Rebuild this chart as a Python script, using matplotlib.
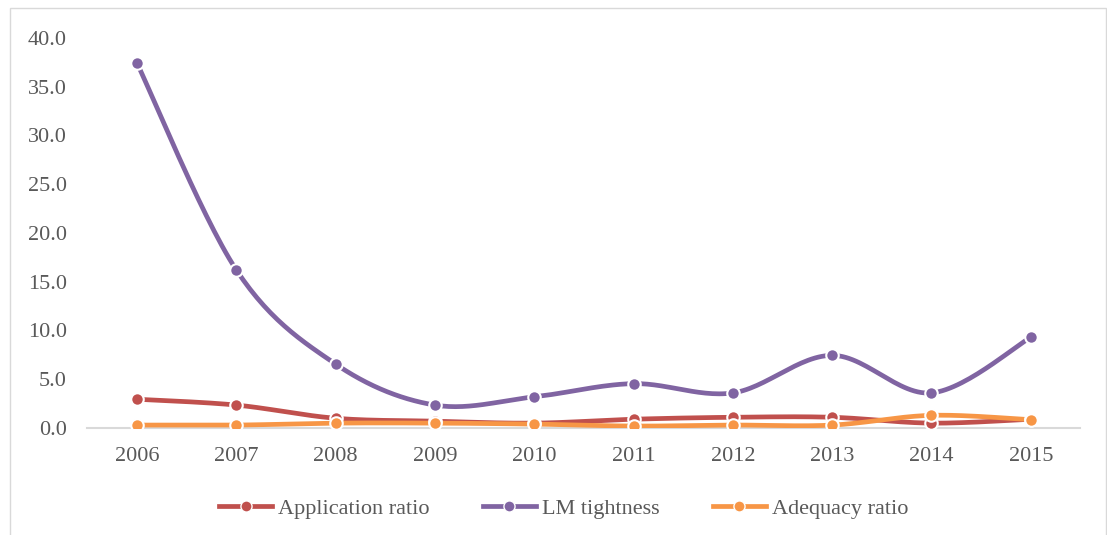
import numpy as np
import matplotlib
matplotlib.use('Agg')
import matplotlib.pyplot as plt
from matplotlib.lines import Line2D
from matplotlib.patches import Rectangle

years = ['2006', '2007', '2008', '2009', '2010', '2011', '2012', '2013', '2014', '2015']
application_ratio = [2.95, 2.35, 1.0, 0.7, 0.5, 0.9, 1.1, 1.1, 0.5, 0.9]
lm_tightness = [37.4, 16.2, 6.55, 2.35, 3.2, 4.55, 3.6, 7.45, 3.6, 9.3]
adequacy_ratio = [0.3, 0.3, 0.5, 0.5, 0.4, 0.2, 0.3, 0.3, 1.3, 0.85]

colors = {'Application ratio': '#C0504D',
          'LM tightness': '#8064A2',
          'Adequacy ratio': '#F79646'}
text_col = '#595959'


def smooth(x, y, n=30):
    # Excel-style smoothed line (Catmull-Rom bezier through the points)
    x = np.asarray(x, float)
    y = np.asarray(y, float)
    px = np.concatenate([[x[0]], x, [x[-1]]])
    py = np.concatenate([[y[0]], y, [y[-1]]])
    xs, ys = [], []
    t = np.linspace(0, 1, n)
    for i in range(1, len(px) - 2):
        p0 = np.array([px[i], py[i]])
        p3 = np.array([px[i + 1], py[i + 1]])
        p1 = p0 + (np.array([px[i + 1], py[i + 1]]) - np.array([px[i - 1], py[i - 1]])) / 6
        p2 = p3 - (np.array([px[i + 2], py[i + 2]]) - np.array([px[i], py[i]])) / 6
        b = ((1 - t) ** 3)[:, None] * p0 + (3 * (1 - t) ** 2 * t)[:, None] * p1 \
            + (3 * (1 - t) * t ** 2)[:, None] * p2 + (t ** 3)[:, None] * p3
        xs.extend(b[:, 0])
        ys.extend(b[:, 1])
    return np.array(xs), np.array(ys)


plt.rcParams['font.family'] = ['Liberation Serif', 'DejaVu Serif']
fig = plt.figure(figsize=(11.07, 5.35), dpi=100)
ax = fig.add_axes([0.079, 0.2, 0.897, 0.729])

x = np.arange(len(years))
series = [('Application ratio', application_ratio),
          ('LM tightness', lm_tightness),
          ('Adequacy ratio', adequacy_ratio)]
handles = []
for name, vals in series:
    c = colors[name]
    sx, sy = smooth(x, vals)
    ax.plot(sx, sy, color=c, lw=3.4, solid_capstyle='butt', zorder=3)
    ax.plot(x, vals, 'o', color=c, ms=9, mec='white', mew=1.5, zorder=4)
    handles.append(Line2D([0], [0], color=c, lw=3.4, marker='o', ms=8,
                          mec='white', mew=1, label=name))

ax.set_xlim(-0.5, len(years) - 0.5)
ax.set_ylim(0, 40)
ax.set_yticks(np.arange(0, 41, 5))
ax.set_yticklabels(['%.1f' % v for v in np.arange(0, 41, 5)])
ax.set_xticks(x)
ax.set_xticklabels(years)
for s in ['top', 'right', 'left']:
    ax.spines[s].set_visible(False)
ax.spines['bottom'].set_color('#D9D9D9')
ax.spines['bottom'].set_linewidth(1.5)
ax.tick_params(axis='both', length=0, labelsize=16, colors=text_col)
ax.tick_params(axis='x', pad=14)
ax.tick_params(axis='y', pad=15)

fig.legend(handles=handles, loc='center', bbox_to_anchor=(0.509, 0.05), ncol=3,
           frameon=False, fontsize=16, labelcolor=text_col, handlelength=2.4,
           handletextpad=0.25, columnspacing=2.4)

fig.patches.append(Rectangle((0.009, -0.01), 0.99, 0.995, transform=fig.transFigure,
                             fill=False, edgecolor='#D9D9D9', lw=1))

fig.savefig('out.png', dpi=100)
